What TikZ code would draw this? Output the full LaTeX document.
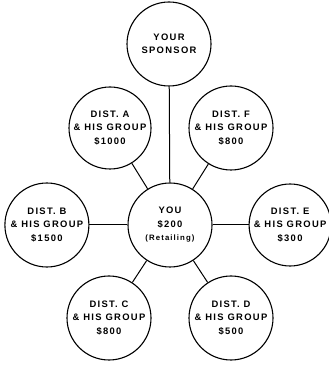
\documentclass[tikz,border=0pt]{standalone}
\usepackage{fontspec}
\setmainfont{Liberation Sans}
\usetikzlibrary{positioning}

\tikzset{
  grp/.style={draw,circle,line width=1.1pt,minimum size=84pt,inner sep=0pt,
              align=center,font=\fontsize{9.4}{13.5}\selectfont\bfseries\addfontfeature{LetterSpace=14}},
  link/.style={line width=1pt}
}

\begin{document}
\begin{tikzpicture}[x=1pt,y=1pt]
  \useasboundingbox (0,0) rectangle (329,372);
  \node[grp] (you) at (170,147) {YOU\\\$200\\{\fontsize{7.8}{13.5}\selectfont(Retailing)}};
  \node[grp] (sponsor) at (169,328) {YOUR\\SPONSOR};
  \node[grp,minimum size=82pt] (dista) at (110,244) {DIST. A\\\& HIS GROUP\\\$1000};
  \node[grp] (distf) at (231,244) {DIST. F\\\& HIS GROUP\\\$800};
  \node[grp,left=38pt of you] (distb) {DIST. B\\\& HIS GROUP\\\$1500};
  \node[grp,minimum size=82pt,right=36pt of you] (diste) {DIST. E\\\& HIS GROUP\\\$300};
  \node[grp] (distc) at (109,54) {DIST. C\\\& HIS GROUP\\\$800};
  \node[grp] (distd) at (231,54) {DIST. D\\\& HIS GROUP\\\$500};
  % links to the centre
  \draw[link] (sponsor) -- (you);
  \foreach \d in {dista,distf,distb,diste,distc,distd}
    \draw[link] (\d) -- (you);
\end{tikzpicture}
\end{document}
